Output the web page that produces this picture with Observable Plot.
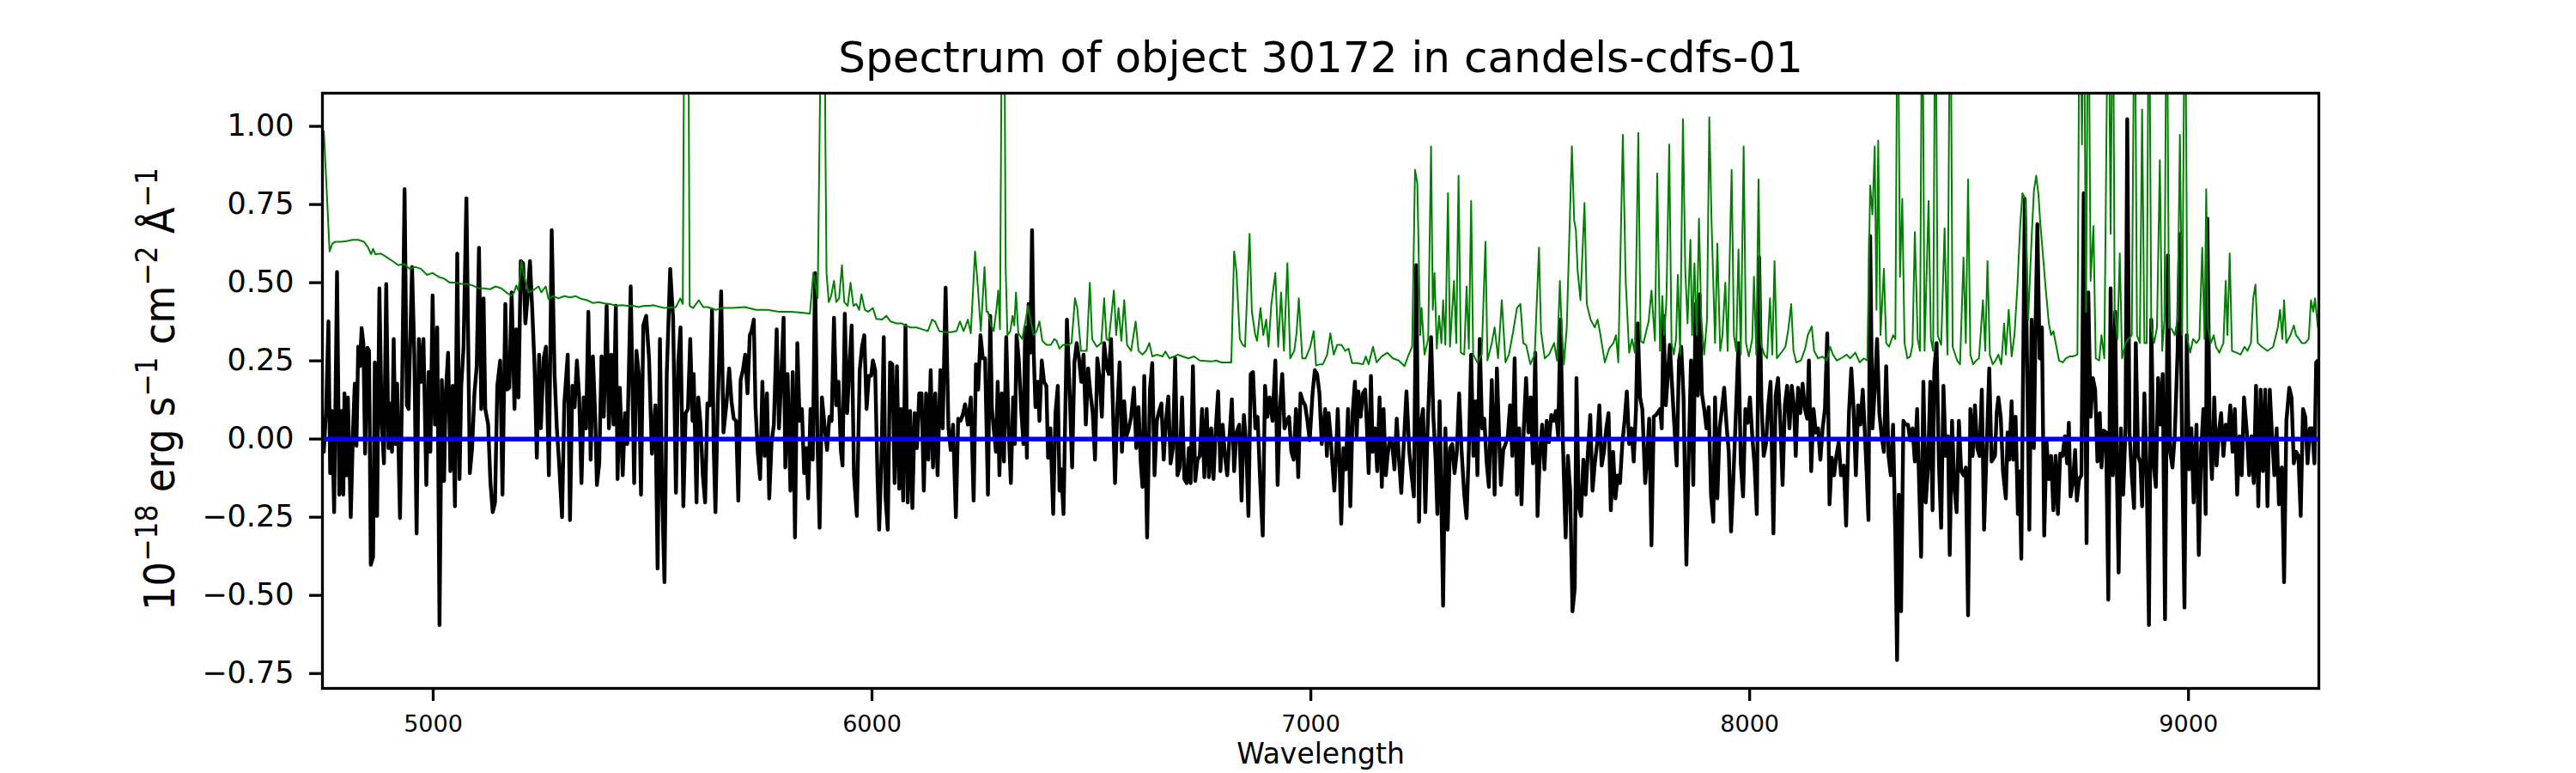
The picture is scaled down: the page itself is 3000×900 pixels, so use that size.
<!DOCTYPE html>
<html>
<head>
<meta charset="utf-8">
<script src="https://cdn.jsdelivr.net/npm/d3@7"></script>
<script src="https://cdn.jsdelivr.net/npm/@observablehq/plot@0.6"></script>
<style>
  html, body { margin: 0; padding: 0; background: white; }
  svg { display: block; }
</style>
</head>
<body>
<div id="chart"></div>
<script>
const titleText = "Spectrum of object 30172 in candels-cdfs-01";
const xLabelText = "Wavelength";
const xTicks = [5000, 6000, 7000, 8000, 9000];
const yTicks = [-0.75, -0.5, -0.25, 0, 0.25, 0.5, 0.75, 1.0];
const xDomain = [4747.6, 9297];
const yDomain = [-0.7975, 1.106];
const zeroLevel = [0];

// [wavelength (Å), flux (1e-18 erg/s/cm2/Å)] — object spectrum (black)
const spectrum = [
[4750.8,-0.041],[4756.1,0.096],[4761.3,0.376],[4765.2,-0.109],[4769.1,0.090],[4774.3,-0.234],[4780.9,0.534],[4786.1,-0.178],[4791.3,0.090],[4795.2,-0.178],[4797.8,0.146],[4803.0,-0.116],[4805.6,0.133],[4812.2,-0.250],[4817.4,0.034],[4821.3,0.177],[4825.2,-0.022],[4829.1,0.295],[4833.0,0.233],[4837.0,0.355],[4840.9,0.307],[4844.8,-0.047],[4850.0,0.292],[4853.9,0.282],[4857.8,-0.402],[4863.0,-0.377],[4867.0,0.245],[4872.2,-0.246],[4877.4,0.482],[4882.6,0.058],[4887.8,-0.078],[4893.0,0.496],[4898.3,-0.029],[4902.2,0.114],[4906.1,-0.041],[4910.0,0.320],[4913.9,-0.016],[4917.8,0.177],[4924.4,-0.253],[4929.6,0.208],[4934.8,0.799],[4940.0,0.108],[4943.9,0.096],[4951.8,0.550],[4957.0,0.270],[4962.2,-0.302],[4967.4,0.320],[4972.6,0.183],[4977.8,0.320],[4984.4,-0.147],[4989.6,0.214],[4993.5,-0.041],[4998.7,0.459],[5003.9,0.046],[5009.2,0.357],[5014.4,-0.595],[5019.6,0.189],[5024.8,-0.134],[5028.7,0.146],[5034.0,0.276],[5039.2,-0.103],[5044.4,0.170],[5049.6,-0.215],[5054.8,0.593],[5060.0,-0.128],[5064.0,0.170],[5069.2,0.295],[5075.7,0.770],[5083.5,-0.109],[5088.7,-0.029],[5094.0,0.146],[5099.2,0.233],[5104.4,0.612],[5109.6,0.096],[5114.8,0.450],[5118.7,0.096],[5125.3,0.046],[5130.5,-0.141],[5135.7,-0.234],[5140.9,-0.203],[5146.1,0.170],[5152.7,0.251],[5157.9,-0.178],[5164.4,0.432],[5168.3,0.158],[5173.5,0.164],[5178.8,0.469],[5185.3,0.096],[5189.2,0.351],[5194.4,0.133],[5199.6,0.569],[5204.9,0.562],[5210.1,0.370],[5215.3,0.457],[5220.5,0.569],[5225.7,0.413],[5231.0,0.233],[5236.2,-0.060],[5241.4,0.270],[5245.3,0.034],[5251.8,0.258],[5257.0,0.295],[5263.6,-0.116],[5270.1,0.668],[5276.6,0.208],[5281.8,0.034],[5287.0,-0.078],[5293.6,-0.250],[5298.8,0.114],[5306.6,0.270],[5311.8,-0.259],[5317.1,0.170],[5322.3,0.102],[5327.5,0.251],[5332.7,0.133],[5337.9,-0.141],[5343.1,0.133],[5348.4,0.034],[5353.6,0.407],[5358.8,-0.066],[5364.0,0.264],[5369.2,0.071],[5373.1,-0.147],[5378.4,-0.078],[5383.6,0.264],[5388.8,0.071],[5395.3,0.426],[5400.5,0.034],[5405.8,0.270],[5411.0,0.046],[5416.2,0.426],[5420.1,-0.128],[5425.3,0.164],[5431.9,-0.116],[5437.1,0.083],[5442.3,-0.016],[5450.1,0.488],[5458.0,-0.141],[5463.2,0.282],[5468.4,0.208],[5473.6,-0.178],[5478.8,0.363],[5485.4,0.394],[5491.9,0.258],[5498.4,-0.047],
[5506.2,0.108],[5511.4,-0.414],[5516.7,0.320],[5521.9,-0.190],[5527.1,-0.458],[5532.3,0.208],[5540.1,0.544],[5546.7,0.388],[5553.2,-0.172],[5558.4,0.245],[5563.6,0.357],[5570.1,-0.215],[5575.4,0.083],[5580.6,0.096],[5585.8,0.320],[5591.0,0.058],[5593.6,0.208],[5600.1,-0.203],[5604.1,0.133],[5609.3,0.046],[5614.5,-0.116],[5619.7,-0.203],[5624.9,0.114],[5630.2,0.108],[5635.4,0.413],[5639.3,-0.029],[5643.2,-0.234],[5648.4,0.108],[5656.2,0.472],[5661.5,0.021],[5668.0,0.108],[5674.5,0.226],[5679.7,0.121],[5684.9,0.065],[5690.2,0.058],[5695.4,-0.197],[5700.6,0.189],[5705.8,0.220],[5711.0,0.270],[5716.3,0.146],[5721.5,0.332],[5725.4,0.345],[5730.6,0.382],[5734.5,0.102],[5739.7,-0.041],[5745.0,-0.128],[5750.2,0.183],[5755.4,-0.054],[5760.6,0.146],[5765.8,-0.190],[5771.1,-0.010],[5776.3,0.046],[5782.8,0.351],[5788.0,0.034],[5793.2,0.195],[5798.5,0.388],[5802.4,-0.091],[5807.6,0.208],[5814.1,-0.165],[5819.3,0.214],[5824.5,-0.315],[5829.8,0.307],[5835.0,0.058],[5840.2,0.096],[5845.4,-0.109],[5850.6,-0.029],[5854.5,-0.190],[5859.8,0.096],[5865.0,-0.066],[5870.2,0.531],[5875.4,0.009],[5880.6,-0.284],[5885.9,0.133],[5892.4,0.034],[5897.6,-0.035],[5902.8,0.071],[5908.0,0.058],[5913.3,0.388],[5918.5,0.108],[5923.7,0.183],[5928.9,-0.035],[5932.8,-0.085],[5938.0,0.401],[5943.3,0.083],[5948.5,0.233],[5953.7,0.363],[5958.9,-0.116],[5965.4,-0.246],[5972.0,0.220],[5977.2,0.295],[5982.4,0.332],[5987.6,0.096],[5992.8,0.202],[5998.1,0.202],[6002.0,0.251],[6007.2,0.220],[6012.4,-0.116],[6016.3,-0.290],[6021.5,-0.066],[6026.8,0.326],[6030.7,-0.184],[6035.9,-0.290],[6041.1,0.245],[6046.3,0.239],[6051.5,-0.141],[6056.8,0.233],[6062.0,-0.159],[6065.9,0.096],[6071.1,-0.197],[6076.3,0.363],[6081.5,-0.203],[6086.8,0.090],[6092.0,-0.221],[6097.2,0.083],[6102.4,-0.029],[6107.6,0.146],[6112.9,0.146],[6118.1,-0.165],[6123.3,0.146],[6128.5,-0.066],[6133.7,0.220],[6139.0,-0.091],[6144.2,0.146],[6149.4,-0.116],[6155.9,0.220],[6161.1,0.034],[6167.7,0.484],[6174.2,0.034],[6179.4,-0.035],[6184.6,0.046],[6191.1,-0.250],[6196.4,0.065],[6201.6,0.058],[6206.8,0.077],[6212.0,0.111],[6218.5,0.046],[6225.1,0.133],[6231.6,-0.197],[6236.8,0.239],[6242.0,0.158],[6247.2,0.332],[6252.5,0.258],[6257.7,0.258],
[6264.2,-0.178],[6269.4,0.394],[6273.3,0.096],[6277.2,0.034],[6282.5,-0.041],[6286.4,0.183],[6290.3,-0.116],[6295.5,0.146],[6300.7,-0.072],[6305.9,0.326],[6311.2,0.034],[6316.4,-0.141],[6321.6,0.133],[6325.5,-0.016],[6329.4,0.332],[6334.6,0.251],[6339.9,0.096],[6345.1,-0.016],[6349.0,0.357],[6352.9,-0.060],[6356.8,0.432],[6360.7,0.276],[6364.7,0.668],[6368.6,0.270],[6372.5,0.102],[6377.7,0.183],[6381.6,0.058],[6386.8,0.251],[6392.0,0.183],[6397.3,0.170],[6401.2,-0.060],[6406.4,0.034],[6412.9,-0.240],[6418.1,0.083],[6423.4,0.170],[6427.3,-0.165],[6431.2,-0.097],[6436.4,-0.240],[6444.2,0.382],[6450.8,0.133],[6456.0,-0.091],[6461.2,0.245],[6466.4,0.307],[6471.6,0.258],[6476.9,0.183],[6482.1,0.270],[6487.3,0.046],[6492.5,0.226],[6497.7,0.146],[6503.0,0.083],[6508.2,-0.066],[6513.4,0.258],[6518.6,0.195],[6523.8,0.071],[6529.0,0.307],[6534.3,0.233],[6539.5,0.208],[6544.7,0.320],[6549.9,0.052],[6553.8,-0.141],[6559.0,0.096],[6564.3,0.245],[6569.5,-0.041],[6574.7,0.121],[6579.9,0.009],[6585.1,0.034],[6590.4,0.071],[6596.9,0.164],[6602.1,-0.029],[6607.3,0.102],[6612.5,-0.078],[6616.4,-0.153],[6620.4,0.202],[6626.9,-0.315],[6633.4,0.158],[6638.6,0.243],[6643.8,-0.116],[6649.1,0.058],[6654.3,0.090],[6659.5,0.114],[6664.7,-0.066],[6669.9,0.058],[6675.2,0.136],[6680.4,-0.078],[6685.6,-0.029],[6690.8,0.258],[6696.0,-0.116],[6701.2,-0.091],[6706.5,0.133],[6711.7,-0.128],[6716.9,-0.141],[6722.1,-0.029],[6726.0,-0.141],[6731.3,0.233],[6736.5,-0.134],[6741.7,-0.066],[6746.9,-0.054],[6752.1,0.096],[6757.3,-0.122],[6762.6,0.096],[6767.8,-0.122],[6773.0,0.034],[6778.2,-0.128],[6783.4,0.034],[6788.7,0.152],[6793.9,-0.103],[6799.1,0.046],[6804.3,-0.054],[6809.5,-0.116],[6814.7,0.009],[6820.0,0.127],[6825.2,-0.103],[6830.4,0.021],[6836.9,0.046],[6842.1,-0.197],[6847.4,0.077],[6852.6,-0.016],[6857.8,-0.246],[6863.0,0.208],[6868.2,0.214],[6873.5,0.034],[6878.7,0.071],[6883.9,-0.116],[6890.4,-0.309],[6895.6,0.170],[6900.9,0.071],[6906.1,0.133],[6912.6,0.058],[6919.1,0.251],[6924.3,-0.147],[6929.5,0.096],[6934.8,0.208],[6940.0,0.034],[6945.2,0.058],[6950.4,0.071],[6955.6,-0.041],[6960.9,-0.066],[6966.1,0.096],[6971.3,-0.122],[6976.5,0.146],[6981.7,0.121],[6987.0,0.108],[6992.2,0.058],[6997.4,-0.004],[7003.9,0.146],[7009.1,0.220],[7014.3,0.208],[7019.6,0.146],[7024.8,-0.016],
[7032.6,0.096],[7036.5,-0.054],[7040.4,0.083],[7044.4,0.021],[7048.3,-0.060],[7053.5,-0.165],[7057.4,-0.054],[7061.3,0.096],[7065.2,-0.066],[7069.2,-0.271],[7074.4,-0.029],[7079.6,-0.097],[7084.8,0.096],[7090.0,-0.215],[7095.2,0.083],[7100.5,0.183],[7104.4,0.009],[7108.3,0.152],[7113.5,0.071],[7118.7,0.146],[7123.9,0.158],[7127.9,0.034],[7131.8,-0.109],[7137.0,0.202],[7140.9,-0.041],[7146.1,0.034],[7151.3,-0.103],[7156.6,0.133],[7161.8,-0.153],[7165.7,0.096],[7170.9,-0.116],[7174.8,-0.054],[7180.0,0.002],[7185.3,-0.016],[7190.5,-0.097],[7195.7,0.065],[7200.9,-0.066],[7206.1,-0.172],[7211.3,-0.029],[7217.9,0.152],[7224.4,-0.041],[7229.6,-0.116],[7234.8,-0.184],[7240.0,0.556],[7246.6,-0.265],[7250.5,0.046],[7255.7,0.096],[7260.9,-0.234],[7266.1,0.034],[7274.0,0.326],[7279.2,0.071],[7284.4,-0.066],[7288.3,-0.240],[7293.5,0.121],[7301.4,-0.533],[7306.6,0.034],[7311.8,-0.290],[7317.0,-0.029],[7322.2,-0.016],[7327.5,-0.109],[7332.7,-0.041],[7337.9,0.146],[7343.1,-0.029],[7349.6,-0.178],[7354.9,-0.253],[7360.1,-0.029],[7365.3,0.270],[7370.5,-0.054],[7375.7,0.121],[7379.6,-0.116],[7384.9,0.320],[7390.1,0.034],[7395.3,0.065],[7400.5,-0.072],[7405.7,-0.153],[7412.3,0.189],[7418.8,-0.178],[7424.0,0.226],[7429.2,0.002],[7433.1,-0.147],[7438.4,-0.035],[7443.6,-0.016],[7448.8,0.009],[7454.0,0.108],[7459.2,-0.054],[7464.4,0.258],[7469.7,-0.178],[7474.9,0.034],[7480.1,-0.209],[7485.3,0.034],[7490.5,0.195],[7495.8,0.021],[7501.0,0.133],[7506.2,-0.078],[7511.4,0.276],[7516.6,-0.246],[7521.8,-0.054],[7527.1,0.046],[7532.3,-0.097],[7537.5,0.058],[7542.7,-0.010],[7547.9,0.077],[7553.2,0.058],[7558.4,0.090],[7563.6,0.009],[7568.8,0.382],[7574.0,0.009],[7580.6,-0.315],[7585.8,-0.054],[7591.0,-0.165],[7596.2,-0.551],[7601.4,-0.477],[7605.3,0.195],[7610.6,-0.215],[7615.8,-0.246],[7621.0,-0.066],[7626.2,-0.178],[7631.4,-0.041],[7636.7,0.077],[7641.9,-0.165],[7647.1,-0.078],[7652.3,-0.016],[7657.5,0.108],[7662.7,-0.085],[7668.0,-0.041],[7673.2,0.034],[7678.4,0.083],[7683.6,-0.228],[7688.8,-0.041],[7694.1,-0.190],[7699.3,-0.116],[7704.5,-0.141],[7709.7,-0.016],[7714.9,0.058],[7720.1,0.152],[7725.4,-0.016],[7730.6,0.034],[7735.8,-0.072],[7741.0,0.096],[7744.9,0.370],[7750.2,0.133],[7755.4,0.096],[7761.9,-0.141],[7767.1,-0.041],[7771.0,0.065],[7776.2,-0.340],[7781.5,0.071],[7786.7,0.077],
[7795.8,0.096],[7799.7,0.034],[7803.6,0.394],[7808.9,0.108],[7812.8,0.189],[7818.0,0.301],[7823.2,0.170],[7828.4,0.040],[7833.7,-0.085],[7838.9,0.251],[7844.1,0.295],[7849.3,0.133],[7855.8,-0.402],[7861.0,-0.054],[7866.3,0.251],[7871.5,-0.147],[7876.7,0.432],[7881.9,0.139],[7885.8,0.463],[7891.1,0.146],[7896.3,0.096],[7901.5,0.034],[7906.7,0.102],[7911.9,-0.178],[7917.1,-0.265],[7921.1,0.133],[7926.3,-0.190],[7931.5,0.034],[7936.7,0.096],[7941.9,0.164],[7947.2,0.046],[7952.4,-0.041],[7957.6,-0.296],[7962.8,-0.128],[7968.0,0.058],[7974.5,0.307],[7979.8,-0.078],[7985.0,-0.184],[7990.2,0.096],[7995.4,0.052],[8000.6,0.133],[8005.9,0.009],[8011.1,-0.085],[8016.3,-0.240],[8021.5,0.581],[8026.7,0.127],[8032.0,-0.054],[8037.2,-0.016],[8042.4,0.108],[8047.6,0.183],[8054.1,-0.302],[8059.3,0.139],[8064.6,0.195],[8069.8,0.058],[8075.0,-0.147],[8080.2,0.108],[8085.4,0.170],[8090.7,0.034],[8095.9,0.170],[8101.1,0.102],[8105.0,-0.054],[8110.2,0.164],[8115.4,0.083],[8120.7,0.177],[8125.9,0.096],[8131.1,0.065],[8135.0,0.251],[8140.2,-0.103],[8145.5,0.096],[8150.7,0.021],[8155.9,0.034],[8161.1,-0.066],[8166.3,0.034],[8171.5,0.096],[8176.8,0.338],[8182.0,-0.209],[8187.2,-0.060],[8192.4,-0.116],[8197.6,-0.054],[8202.9,-0.010],[8208.1,-0.116],[8214.6,-0.085],[8219.8,-0.277],[8226.3,0.083],[8231.6,0.226],[8236.8,0.096],[8242.0,-0.116],[8247.2,0.108],[8252.4,0.046],[8257.7,0.158],[8261.6,0.046],[8266.8,-0.116],[8270.7,-0.259],[8274.6,0.649],[8279.8,0.034],[8285.0,0.158],[8290.3,0.320],[8295.5,0.083],[8300.7,0.009],[8305.9,-0.041],[8311.1,0.233],[8316.4,-0.054],[8321.6,-0.116],[8326.8,0.046],[8332.0,-0.315],[8335.9,-0.707],[8339.8,-0.178],[8345.1,-0.551],[8350.3,0.058],[8355.5,0.046],[8360.7,0.046],[8365.9,-0.004],[8371.1,0.034],[8376.4,-0.072],[8381.6,0.096],[8386.8,-0.178],[8390.7,-0.377],[8395.9,0.183],[8401.2,-0.203],[8406.4,-0.091],[8411.6,0.183],[8416.8,-0.228],[8420.7,0.220],[8425.9,0.307],[8431.2,-0.078],[8436.4,-0.284],[8441.6,0.170],[8446.8,-0.054],[8452.0,0.009],[8455.9,-0.371],[8461.2,0.058],[8466.4,-0.153],[8471.6,-0.234],[8476.8,0.058],[8482.0,-0.103],[8487.3,-0.116],[8492.5,-0.091],[8497.7,-0.564],[8502.9,0.096],[8508.1,-0.054],[8513.4,0.108],[8518.6,-0.029],[8523.8,-0.054],[8529.0,0.158],[8534.2,-0.290],[8539.5,-0.054],[8546.0,0.226],[8551.2,-0.072],
[8559.0,-0.054],[8562.9,0.083],[8566.8,0.133],[8572.1,0.071],[8577.3,-0.103],[8583.8,-0.190],[8587.7,0.021],[8591.6,-0.066],[8596.9,0.121],[8600.8,-0.066],[8606.0,0.071],[8611.2,-0.240],[8615.1,-0.103],[8619.0,-0.383],[8626.9,0.768],[8632.1,0.258],[8637.3,-0.290],[8642.5,0.382],[8647.7,-0.029],[8651.6,0.370],[8655.6,0.687],[8660.8,0.258],[8666.0,0.357],[8671.2,-0.309],[8676.4,-0.004],[8681.7,-0.128],[8686.9,-0.054],[8692.1,-0.228],[8697.3,-0.054],[8702.5,-0.240],[8707.7,-0.047],[8713.0,-0.054],[8718.2,0.009],[8723.4,-0.078],[8727.3,0.052],[8731.2,-0.184],[8736.4,-0.141],[8741.7,-0.035],[8745.6,-0.197],[8750.8,-0.128],[8756.0,-0.116],[8761.2,0.786],[8767.8,-0.333],[8771.7,0.469],[8776.9,0.071],[8782.1,0.195],[8787.3,0.158],[8792.5,-0.072],[8797.8,0.083],[8801.7,-0.091],[8806.9,0.027],[8812.1,0.021],[8817.3,-0.514],[8822.5,0.482],[8827.8,-0.116],[8833.0,0.407],[8836.9,-0.116],[8840.8,-0.427],[8846.0,0.034],[8851.2,-0.178],[8856.5,0.034],[8860.4,1.023],[8865.6,0.021],[8870.8,-0.116],[8876.0,-0.221],[8879.9,0.307],[8885.2,-0.054],[8890.4,-0.078],[8894.3,-0.215],[8899.5,0.146],[8904.7,-0.116],[8909.9,-0.595],[8915.2,0.382],[8920.4,-0.078],[8925.6,-0.153],[8930.8,0.195],[8936.0,0.046],[8941.3,0.208],[8946.5,-0.576],[8953.0,0.587],[8958.2,-0.041],[8963.4,-0.091],[8968.7,0.009],[8975.2,0.282],[8980.4,0.656],[8985.6,-0.054],[8990.8,-0.539],[8996.1,0.332],[9001.3,-0.097],[9006.5,0.034],[9011.7,-0.203],[9018.2,0.046],[9023.5,-0.371],[9028.7,-0.041],[9033.9,0.096],[9039.1,-0.240],[9043.0,0.705],[9048.2,0.034],[9053.5,-0.128],[9058.7,0.133],[9063.9,-0.085],[9069.1,0.021],[9074.3,0.083],[9079.6,-0.054],[9084.8,0.046],[9090.0,0.002],[9095.2,0.108],[9100.4,-0.041],[9105.6,0.096],[9110.9,-0.178],[9116.1,0.009],[9121.3,-0.116],[9126.5,0.133],[9133.0,0.021],[9138.3,-0.116],[9143.5,0.009],[9148.7,-0.141],[9153.9,0.170],[9159.1,-0.215],[9164.4,0.158],[9169.6,-0.103],[9174.8,0.158],[9180.0,-0.215],[9185.2,0.158],[9190.4,0.009],[9195.7,-0.116],[9200.9,0.034],[9206.1,-0.209],[9212.6,-0.091],[9217.8,-0.458],[9223.1,0.058],[9229.6,0.164],[9234.8,0.133],[9240.0,-0.078],[9245.2,-0.041],[9250.5,-0.054],[9255.7,-0.246],[9260.9,0.096],[9266.1,0.071],[9271.3,-0.078],[9276.6,0.034],[9281.8,0.034],[9287.0,-0.078],[9290.9,0.245],[9294.8,0.251]
];

// [wavelength (Å), flux uncertainty] — noise spectrum (green); peaks above the frame are clipped
const noise = [
[4750.8,0.985],[4757.4,0.793],[4763.9,0.600],[4770.4,0.625],[4777.0,0.631],[4790.0,0.631],[4803.0,0.633],[4816.1,0.637],[4829.1,0.637],[4842.2,0.631],[4851.9,0.612],[4858.5,0.591],[4863.0,0.608],[4868.3,0.591],[4881.3,0.593],[4894.4,0.581],[4907.4,0.569],[4920.4,0.556],[4933.5,0.560],[4946.5,0.544],[4959.6,0.550],[4972.6,0.544],[4985.7,0.525],[4998.7,0.531],[5011.8,0.519],[5024.8,0.513],[5037.9,0.500],[5050.9,0.500],[5064.0,0.496],[5077.0,0.496],[5090.0,0.491],[5103.1,0.482],[5116.1,0.482],[5129.2,0.479],[5142.2,0.488],[5155.3,0.482],[5168.3,0.467],[5178.1,0.459],[5184.6,0.469],[5189.2,0.491],[5194.4,0.475],[5200.9,0.569],[5207.5,0.519],[5217.2,0.469],[5227.0,0.475],[5240.1,0.488],[5246.6,0.469],[5256.4,0.488],[5262.9,0.447],[5272.7,0.457],[5285.7,0.450],[5298.8,0.457],[5311.8,0.453],[5324.9,0.457],[5337.9,0.448],[5351.0,0.444],[5364.0,0.435],[5377.1,0.438],[5390.1,0.434],[5403.1,0.432],[5416.2,0.426],[5429.2,0.428],[5442.3,0.426],[5455.3,0.426],[5468.4,0.422],[5481.4,0.426],[5494.5,0.426],
[5501.0,0.428],[5527.1,0.419],[5553.2,0.422],[5563.0,0.450],[5568.8,0.432],[5572.8,1.6],[5576.0,1.6],[5580.6,1.6],[5584.5,0.426],[5592.3,0.419],[5605.4,0.444],[5615.2,0.422],[5624.9,0.422],[5644.5,0.413],[5657.6,0.419],[5683.6,0.419],[5709.7,0.422],[5735.8,0.413],[5761.9,0.413],[5788.0,0.407],[5814.1,0.407],[5840.2,0.404],[5858.5,0.401],[5866.3,0.531],[5876.1,0.450],[5885.9,1.6],[5891.1,1.6],[5893.7,0.967],[5896.3,0.531],[5901.5,0.438],[5906.7,0.457],[5913.3,0.506],[5918.5,0.438],[5925.0,0.450],[5931.5,0.556],[5936.7,0.438],[5944.6,0.426],[5951.1,0.500],[5957.6,0.426],[5964.1,0.432],[5970.7,0.413],[5975.9,0.463],[5983.7,0.413],[5991.5,0.407],[6002.0,0.419],[6009.8,0.384],[6022.8,0.382],[6032.6,0.394],[6042.4,0.376],[6055.5,0.370],[6068.5,0.370],[6075.0,0.363],[6088.1,0.357],[6101.1,0.357],[6114.2,0.351],[6127.2,0.345],[6137.0,0.382],[6143.5,0.376],[6153.3,0.345],[6166.4,0.342],[6179.4,0.342],[6192.4,0.345],[6200.3,0.376],[6208.7,0.345],[6218.5,0.382],[6225.1,0.338],[6234.8,0.600],[6241.4,0.482],[6247.9,0.345],[6256.4,0.550],[6261.0,0.407],
[6264.2,0.407],[6270.7,0.367],[6277.2,0.345],[6283.8,0.419],[6287.7,0.475],[6291.6,0.351],[6296.8,1.6],[6300.7,1.6],[6304.6,0.544],[6308.6,0.332],[6315.1,0.345],[6320.3,0.394],[6324.2,0.363],[6328.1,0.469],[6333.3,0.338],[6342.5,0.320],[6350.3,0.382],[6355.5,0.426],[6362.0,0.376],[6368.6,0.332],[6375.1,0.345],[6381.6,0.376],[6388.1,0.314],[6397.9,0.301],[6407.7,0.301],[6415.5,0.320],[6420.7,0.314],[6427.3,0.289],[6435.1,0.301],[6445.5,0.301],[6454.7,0.307],[6462.5,0.450],[6467.7,0.419],[6476.2,0.282],[6489.2,0.282],[6496.4,0.500],[6501.6,0.320],[6512.1,0.295],[6522.5,0.307],[6529.0,0.450],[6534.3,0.320],[6539.5,0.314],[6551.2,0.475],[6556.4,0.332],[6561.7,0.419],[6568.2,0.314],[6574.7,0.444],[6581.2,0.301],[6590.4,0.282],[6600.8,0.376],[6607.3,0.282],[6616.4,0.270],[6624.3,0.282],[6632.1,0.307],[6638.6,0.264],[6649.1,0.270],[6662.1,0.264],[6668.6,0.280],[6677.8,0.258],[6688.2,0.264],[6697.3,0.270],[6707.8,0.264],[6720.8,0.258],[6733.9,0.264],[6746.9,0.251],[6760.0,0.250],[6773.0,0.248],[6784.7,0.251],[6795.8,0.245],[6818.7,0.245],[6825.2,0.600],[6830.4,0.538],[6838.2,0.320],[6844.7,0.301],[6850.0,0.295],[6860.4,0.656],[6865.6,0.407],[6873.5,0.332],[6877.4,0.314],[6885.2,0.419],[6891.7,0.332],[6898.2,0.382],[6903.5,0.295],[6910.0,0.432],[6919.1,0.531],[6925.6,0.295],[6932.2,0.469],[6938.7,0.282],[6946.5,0.562],[6953.0,0.258],[6962.2,0.282],[6967.4,0.338],[6972.6,0.450],[6980.4,0.258],[6988.3,0.258],[6998.7,0.295],[7006.5,0.345],[7011.9,0.235],[7020.9,0.239],
[7027.4,0.239],[7037.2,0.270],[7044.4,0.338],[7052.2,0.270],[7060.0,0.301],[7069.8,0.301],[7078.3,0.282],[7086.1,0.289],[7093.9,0.243],[7105.7,0.243],[7118.7,0.239],[7125.2,0.264],[7131.8,0.239],[7141.6,0.295],[7150.0,0.245],[7161.1,0.264],[7174.2,0.276],[7187.2,0.258],[7200.3,0.251],[7213.3,0.233],[7223.1,0.270],[7230.9,0.295],[7237.4,0.861],[7242.7,0.817],[7249.2,0.332],[7252.4,0.419],[7259.0,0.270],[7267.4,0.320],[7274.0,0.936],[7277.9,0.413],[7281.8,0.531],[7287.0,0.289],[7292.2,0.394],[7297.5,0.307],[7301.4,0.444],[7306.6,0.301],[7312.5,0.786],[7317.0,0.295],[7326.2,0.506],[7331.4,0.307],[7336.6,0.842],[7341.8,0.276],[7349.6,0.270],[7354.9,0.488],[7360.1,0.289],[7365.3,0.761],[7369.9,0.270],[7379.6,0.245],[7389.4,0.270],[7397.9,0.631],[7402.5,0.251],[7412.3,0.307],[7418.8,0.357],[7426.6,0.258],[7435.1,0.444],[7443.6,0.245],[7451.4,0.270],[7461.2,0.345],[7469.7,0.419],[7477.5,0.432],[7484.0,0.307],[7490.5,0.301],[7500.3,0.239],[7510.1,0.270],[7519.9,0.612],[7524.5,0.345],[7533.0,0.258],[7542.7,0.270],[7554.5,0.307],[7561.0,0.251],[7567.5,0.506],[7571.4,0.363],[7576.6,0.239],[7583.2,0.357],[7594.9,0.936],[7600.1,0.699],[7604.0,0.668],[7608.0,0.538],[7614.5,0.444],[7623.6,0.755],[7628.8,0.432],[7637.3,0.382],[7647.1,0.357],[7653.6,0.382],[7660.1,0.332],[7669.9,0.245],[7679.7,0.289],[7689.5,0.307],[7695.4,0.332],[7700.6,0.245],[7711.0,0.973],[7717.5,0.506],[7725.4,0.276],[7731.9,0.320],[7738.4,0.276],[7746.2,0.979],[7751.5,0.314],[7758.0,0.307],[7769.7,0.376],[7776.2,0.475],[7784.1,0.314],[7789.3,0.849],[7795.8,0.282],
[7801.0,0.457],[7805.0,0.332],[7810.2,0.438],[7816.7,0.942],[7821.9,0.307],[7827.1,0.270],[7832.3,0.320],[7836.3,0.525],[7841.5,0.270],[7848.0,1.023],[7853.2,0.544],[7858.4,0.370],[7865.0,0.637],[7868.9,0.332],[7874.1,0.562],[7879.3,0.332],[7884.5,0.705],[7889.7,0.382],[7896.3,0.270],[7902.8,0.382],[7908.0,1.029],[7913.2,0.693],[7921.1,0.307],[7926.3,0.625],[7932.8,0.282],[7938.0,0.332],[7944.5,0.500],[7949.8,0.282],[7958.9,0.861],[7964.1,0.332],[7969.3,0.282],[7974.5,0.606],[7979.8,0.270],[7986.3,0.936],[7991.5,0.307],[7998.0,0.264],[8005.9,0.320],[8009.8,0.519],[8015.0,0.270],[8020.2,0.830],[8025.4,0.307],[8033.3,0.270],[8039.8,0.258],[8046.3,0.450],[8051.5,0.270],[8056.7,0.569],[8062.0,0.258],[8068.5,0.270],[8075.0,0.282],[8081.5,0.295],[8088.1,0.351],[8094.6,0.432],[8099.8,0.282],[8106.3,0.245],[8116.8,0.251],[8126.5,0.289],[8132.4,0.332],[8141.5,0.360],[8146.8,0.282],[8155.9,0.258],[8165.7,0.264],[8175.5,0.251],[8183.3,0.295],[8189.8,0.270],[8198.3,0.251],[8208.1,0.258],[8221.1,0.270],[8229.0,0.258],[8240.7,0.276],[8250.5,0.245],[8260.3,0.258],[8268.1,0.251],[8274.6,0.811],[8279.8,0.718],[8285.0,0.936],[8289.0,0.413],[8292.9,0.954],[8298.1,0.332],[8305.9,0.544],[8311.1,0.307],[8317.7,0.295],[8326.8,0.332],[8332.0,0.320],[8337.2,1.6],[8342.5,0.519],[8347.7,0.768],[8352.9,0.307],[8359.4,0.258],[8365.9,0.264],[8371.1,0.301],[8376.4,0.662],[8382.9,0.320],[8388.1,0.282],[8393.3,1.6],[8398.5,0.282],[8407.7,0.761],[8412.9,0.320],[8418.1,0.282],[8423.3,1.6],[8428.6,0.332],[8436.4,0.301],[8444.2,0.674],[8450.7,0.270],[8457.3,1.6],[8462.5,0.295],[8472.9,0.251],[8479.4,0.239],[8487.3,0.581],[8492.5,0.307],[8497.7,0.830],[8502.9,0.270],[8509.4,0.239],[8516.0,0.251],[8522.5,0.258],[8531.6,0.444],[8536.8,0.282],[8542.0,0.569],[8547.3,0.270],
[8553.8,0.239],[8560.3,0.251],[8566.8,0.270],[8573.4,0.239],[8579.9,0.370],[8583.8,0.270],[8590.3,0.413],[8596.9,0.264],[8603.4,0.332],[8609.9,0.482],[8616.4,0.681],[8621.6,0.786],[8628.2,0.768],[8634.7,0.382],[8642.5,0.643],[8647.7,0.793],[8653.0,0.842],[8658.2,0.780],[8662.1,0.693],[8667.3,0.606],[8673.8,0.494],[8681.7,0.370],[8686.9,0.332],[8692.1,0.345],[8697.3,0.307],[8705.1,0.251],[8713.6,0.245],[8720.8,0.258],[8728.6,0.264],[8736.4,0.264],[8746.9,0.270],[8752.1,1.6],[8757.3,0.942],[8761.2,1.6],[8766.5,0.407],[8771.7,1.6],[8776.9,0.506],[8783.4,0.681],[8788.6,0.258],[8796.5,0.251],[8801.7,0.332],[8808.2,0.258],[8817.3,1.6],[8822.5,0.656],[8827.8,1.6],[8831.7,0.407],[8838.2,0.320],[8843.4,0.594],[8848.6,0.258],[8856.5,0.307],[8863.0,0.320],[8870.8,0.332],[8877.3,1.6],[8882.6,0.332],[8889.1,0.307],[8894.3,1.054],[8899.5,0.307],[8904.7,0.307],[8909.9,1.6],[8915.2,0.357],[8921.7,0.307],[8928.2,0.357],[8934.7,0.892],[8940.0,0.282],[8945.2,0.382],[8950.4,1.6],[8955.6,0.357],[8962.1,0.351],[8968.7,0.332],[8975.2,0.382],[8980.4,0.973],[8985.6,0.332],[8992.2,1.6],[8997.4,0.320],[9003.9,0.276],[9010.4,0.320],[9018.2,0.307],[9024.8,0.320],[9031.3,0.612],[9036.5,0.320],[9040.4,0.799],[9044.3,0.357],[9050.9,0.307],[9057.4,0.332],[9062.6,0.295],[9070.4,0.276],[9079.6,0.307],[9084.8,0.506],[9088.7,0.332],[9093.9,0.594],[9099.1,0.282],[9109.6,0.276],[9118.7,0.270],[9127.8,0.295],[9134.4,0.282],[9142.2,0.307],[9147.4,0.450],[9152.6,0.494],[9157.8,0.307],[9167.0,0.295],[9180.0,0.282],[9193.0,0.295],[9203.5,0.357],[9208.7,0.413],[9213.9,0.320],[9217.8,0.444],[9223.1,0.307],[9232.2,0.332],[9240.0,0.363],[9245.2,0.332],[9251.8,0.320],[9258.3,0.307],[9266.1,0.307],[9273.9,0.320],[9279.1,0.444],[9284.4,0.407],[9288.3,0.450],[9294.8,0.357]
];

const fmtY = d3.format(".2f");

const chart = Plot.plot({
  width: 3000,
  height: 900,
  marginTop: 108,
  marginBottom: 99,
  marginLeft: 375,
  marginRight: 300,
  style: { fontFamily: "DejaVu Sans", background: "white", color: "black" },
  x: { domain: xDomain, label: null },
  y: { domain: yDomain, label: null },
  marks: [
    Plot.line(spectrum, { x: d => d[0], y: d => d[1], stroke: "black", strokeWidth: 4.4, clip: true }),
    Plot.line(noise, { x: d => d[0], y: d => d[1], stroke: "#008000", strokeWidth: 2, clip: true }),
    Plot.ruleY(zeroLevel, { stroke: "#0000ff", strokeWidth: 5.5 }),
    Plot.frame({ stroke: "black", strokeWidth: 3.3 }),
    Plot.axisX({ ticks: xTicks, tickSize: 15, tickPadding: 16, fontSize: 27, strokeWidth: 3.3, tickFormat: d => String(d), label: null }),
    Plot.axisY({ ticks: yTicks, tickSize: 15, tickPadding: 18, fontSize: 35, strokeWidth: 3.3, tickFormat: d => fmtY(d), label: null }),
    Plot.text([titleText], { text: d => d, frameAnchor: "top", lineAnchor: "bottom", dy: -25, fontSize: 50, fill: "black" }),
    Plot.text([xLabelText], { text: d => d, frameAnchor: "bottom", lineAnchor: "bottom", dy: 87, fontSize: 33, fill: "black" })
  ]
});

document.getElementById("chart").appendChild(chart);

// y-axis label with superscripts
const yl = d3.select(chart).append("text")
  .attr("transform", "translate(203,453) rotate(-90)")
  .attr("text-anchor", "middle")
  .attr("font-family", "DejaVu Sans")
  .attr("font-size", 50)
  .attr("fill", "black")
  .attr("textLength", 516)
  .attr("lengthAdjust", "spacingAndGlyphs");
const parts = [
  ["10", false], ["\u221218", true], [" erg s", false], ["\u22121", true],
  [" cm", false], ["\u22122", true], [" \u00C5", false], ["\u22121", true]
];
let prevSup = false;
for (const [t, sup] of parts) {
  const ts = yl.append("tspan").text(t);
  if (sup) { ts.attr("font-size", 35); if (!prevSup) ts.attr("dy", -20); }
  else if (prevSup) ts.attr("dy", 20);
  prevSup = sup;
}
</script>
</body>
</html>
